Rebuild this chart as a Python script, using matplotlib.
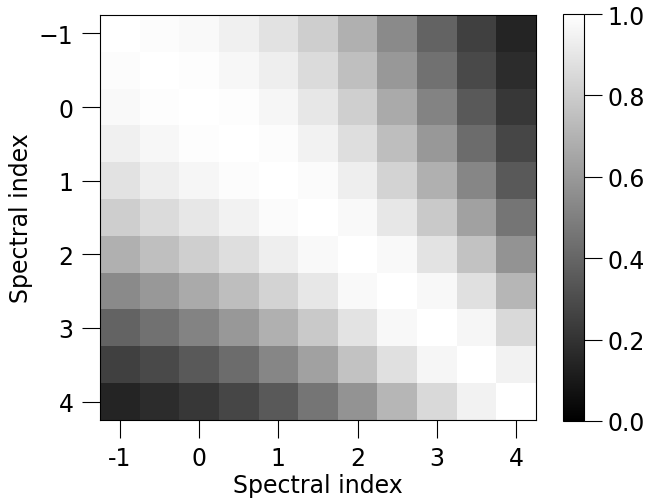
import numpy as np
import matplotlib
matplotlib.use("Agg")
import matplotlib.pyplot as plt

# spectral index grid (cell centres)
index = [-1.0, -0.5, 0.0, 0.5, 1.0, 1.5, 2.0, 2.5, 3.0, 3.5, 4.0]

# correlation matrix
corr = [
    [1.000, 0.988, 0.976, 0.941, 0.886, 0.808, 0.690, 0.541, 0.388, 0.251, 0.145],
    [0.988, 1.000, 0.992, 0.965, 0.933, 0.859, 0.749, 0.596, 0.447, 0.290, 0.173],
    [0.976, 0.992, 1.000, 0.992, 0.961, 0.906, 0.812, 0.667, 0.514, 0.353, 0.216],
    [0.941, 0.965, 0.992, 1.000, 0.988, 0.949, 0.871, 0.745, 0.596, 0.424, 0.275],
    [0.886, 0.933, 0.961, 0.988, 1.000, 0.984, 0.933, 0.831, 0.690, 0.525, 0.353],
    [0.808, 0.859, 0.906, 0.949, 0.984, 1.000, 0.976, 0.906, 0.788, 0.631, 0.459],
    [0.690, 0.749, 0.812, 0.871, 0.933, 0.976, 1.000, 0.973, 0.890, 0.761, 0.580],
    [0.541, 0.596, 0.667, 0.745, 0.831, 0.906, 0.973, 1.000, 0.969, 0.875, 0.714],
    [0.388, 0.447, 0.514, 0.596, 0.690, 0.788, 0.890, 0.969, 1.000, 0.961, 0.851],
    [0.251, 0.290, 0.353, 0.424, 0.525, 0.631, 0.761, 0.875, 0.961, 1.000, 0.949],
    [0.145, 0.173, 0.216, 0.275, 0.353, 0.459, 0.580, 0.714, 0.851, 0.949, 1.000],
]

tick_pos = [-1, 0, 1, 2, 3, 4]
xtick_labels = ['-1', '0', '1', '2', '3', '4']
cbar_ticks = [0.0, 0.2, 0.4, 0.6, 0.8, 1.0]

plt.rcParams['font.size'] = 17

fig = plt.figure(figsize=(6.48, 5.02), dpi=100)
ax = fig.add_axes([100 / 648, 81 / 502, 436 / 648, 405 / 502])
cax = fig.add_axes([563 / 648, 80 / 502, 21 / 648, 407 / 502])

half = (index[1] - index[0]) / 2
ext = [index[0] - half, index[-1] + half, index[-1] + half, index[0] - half]
im = ax.imshow(np.array(corr), cmap='gray', vmin=0, vmax=1,
               extent=ext, aspect='auto', interpolation='nearest')

ax.set_xticks(tick_pos)
ax.set_xticklabels(xtick_labels)
ax.set_yticks(tick_pos)
ax.tick_params(length=13, width=0.8, pad=6)
ax.set_xlabel('Spectral index', labelpad=2)
ax.set_ylabel('Spectral index')

cb = fig.colorbar(im, cax=cax, ticks=cbar_ticks)
cb.ax.tick_params(length=13, width=0.8, pad=4)
cb.ax.set_yticklabels(['0.0', '0.2', '0.4', '0.6', '0.8', '1.0'])

fig.savefig('out.png', dpi=100)
